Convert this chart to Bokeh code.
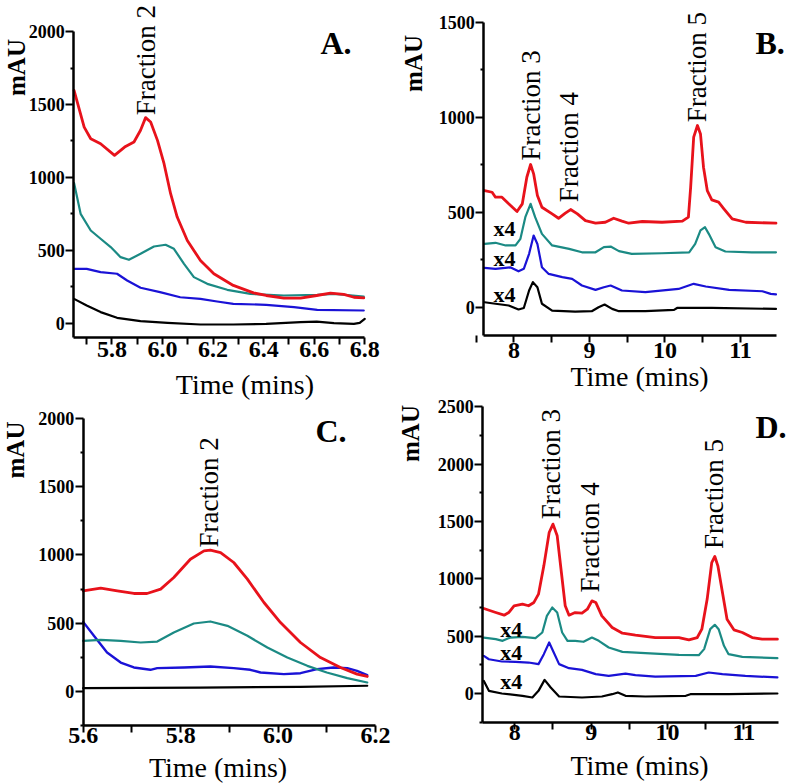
import math
from bokeh.plotting import figure
from bokeh.layouts import column, row
from bokeh.models import Label, FixedTicker, PrintfTickFormatter, Range1d
from bokeh.embed import file_html
from bokeh.resources import INLINE

# ---------------- Panel A data ----------------
a_red_t = [5.65, 5.69, 5.716, 5.755, 5.81, 5.85, 5.887, 5.913, 5.933, 5.953, 5.98, 6.006, 6.032, 6.058, 6.098, 6.15, 6.203, 6.28, 6.36, 6.41, 6.48, 6.546, 6.61, 6.664, 6.717, 6.757, 6.796]
a_red_v = [1597, 1345, 1265, 1231, 1151, 1208, 1243, 1323, 1410, 1380, 1254, 1094, 888, 728, 567, 430, 339, 259, 208, 190, 172, 172, 190, 206, 197, 178, 174]
a_teal_t = [5.65, 5.676, 5.716, 5.755, 5.795, 5.834, 5.867, 5.913, 5.966, 6.012, 6.045, 6.085, 6.124, 6.177, 6.256, 6.348, 6.48, 6.612, 6.678, 6.796]
a_teal_v = [961, 750, 636, 579, 522, 453, 435, 476, 526, 538, 510, 407, 316, 270, 229, 201, 190, 194, 201, 183]
a_blue_t = [5.65, 5.70, 5.755, 5.82, 5.86, 5.913, 5.99, 6.07, 6.15, 6.216, 6.28, 6.41, 6.52, 6.612, 6.796]
a_blue_v = [373, 373, 350, 339, 293, 243, 213, 178, 167, 149, 133, 126, 110, 92, 87]
a_black_t = [5.65, 5.70, 5.755, 5.82, 5.913, 6.02, 6.15, 6.28, 6.41, 6.546, 6.61, 6.678, 6.757, 6.78, 6.80]
a_black_v = [167, 121, 76, 37, 14, 2, -9, -9, -5, 7, 11, 0, -5, 2, 30]

# ---------------- Panel B data ----------------
b_red_t = [7.61, 7.71, 7.755, 7.84, 7.93, 8.04, 8.11, 8.17, 8.22, 8.26, 8.31, 8.37, 8.505, 8.59, 8.68, 8.75, 8.84, 8.946, 9.08, 9.21, 9.32, 9.43, 9.52, 9.70, 9.96, 10.23, 10.31, 10.34, 10.38, 10.43, 10.47, 10.51, 10.56, 10.62, 10.71, 10.78, 10.89, 11.07, 11.47]
b_red_v = [614, 605, 579, 579, 544, 504, 544, 684, 751, 702, 588, 526, 491, 468, 495, 514, 491, 456, 442, 447, 468, 453, 442, 451, 447, 453, 474, 632, 895, 956, 912, 737, 614, 565, 553, 518, 465, 447, 442]
b_teal_t = [7.61, 7.755, 7.89, 8.02, 8.085, 8.15, 8.22, 8.28, 8.37, 8.505, 8.73, 8.90, 9.08, 9.19, 9.28, 9.39, 9.56, 9.96, 10.32, 10.40, 10.47, 10.53, 10.58, 10.67, 10.80, 11.15, 11.47]
b_teal_v = [333, 339, 325, 325, 360, 474, 544, 474, 386, 325, 307, 289, 289, 316, 319, 295, 281, 284, 289, 333, 404, 421, 386, 316, 293, 289, 289]
b_blue_t = [7.61, 7.755, 7.95, 8.06, 8.13, 8.20, 8.26, 8.31, 8.37, 8.46, 8.64, 8.77, 8.90, 9.08, 9.19, 9.28, 9.43, 9.74, 10.18, 10.38, 10.54, 10.85, 11.29, 11.40, 11.47]
b_blue_v = [207, 202, 210, 189, 202, 281, 377, 333, 210, 175, 158, 149, 114, 91, 105, 114, 88, 79, 96, 123, 109, 91, 84, 70, 67]
b_black_t = [7.61, 7.755, 7.93, 8.06, 8.13, 8.20, 8.25, 8.31, 8.37, 8.505, 8.81, 9.03, 9.12, 9.20, 9.30, 9.39, 9.74, 10.12, 10.16, 10.62, 11.47]
b_black_v = [26, 18, 9, -12, -4, 88, 132, 105, 18, -18, -23, -21, 0, 14, -9, -21, -21, -14, -4, -4, -9]

# ---------------- Panel C data ----------------
c_red_t = [5.60, 5.636, 5.67, 5.704, 5.731, 5.759, 5.786, 5.82, 5.848, 5.861, 5.882, 5.909, 5.937, 5.971, 6.005, 6.046, 6.087, 6.128, 6.162, 6.183]
c_red_v = [737, 757, 737, 718, 718, 750, 835, 969, 1030, 1035, 1018, 945, 823, 652, 505, 359, 249, 176, 127, 110]
c_teal_t = [5.60, 5.636, 5.677, 5.718, 5.752, 5.786, 5.827, 5.861, 5.896, 5.937, 5.978, 6.019, 6.06, 6.10, 6.142, 6.183]
c_teal_v = [371, 378, 371, 359, 366, 432, 498, 513, 481, 408, 322, 249, 188, 139, 98, 66]
c_blue_t = [5.60, 5.622, 5.649, 5.677, 5.704, 5.738, 5.752, 5.807, 5.861, 5.909, 5.943, 5.964, 6.012, 6.046, 6.08, 6.114, 6.142, 6.162, 6.183]
c_blue_v = [510, 408, 286, 212, 176, 159, 171, 176, 183, 171, 159, 139, 127, 134, 164, 176, 171, 151, 120]
c_black_t = [5.60, 5.84, 6.046, 6.183]
c_black_v = [24, 29, 34, 42]

# ---------------- Panel D data ----------------
d_red_t = [7.594, 7.75, 7.86, 7.92, 7.99, 8.10, 8.18, 8.25, 8.31, 8.38, 8.45, 8.50, 8.555, 8.61, 8.66, 8.71, 8.79, 8.88, 8.95, 9.01, 9.06, 9.14, 9.275, 9.41, 9.58, 9.84, 10.15, 10.28, 10.39, 10.45, 10.52, 10.58, 10.62, 10.66, 10.72, 10.78, 10.87, 10.98, 11.11, 11.24, 11.44]
d_red_v = [741, 706, 683, 706, 765, 779, 765, 794, 866, 1113, 1404, 1477, 1375, 1055, 765, 683, 706, 701, 735, 808, 794, 677, 576, 526, 509, 488, 488, 468, 488, 561, 823, 1142, 1195, 1113, 881, 648, 555, 532, 488, 474, 474]
d_teal_t = [7.594, 7.75, 7.84, 7.94, 8.10, 8.27, 8.36, 8.42, 8.49, 8.555, 8.62, 8.69, 8.79, 8.90, 9.01, 9.10, 9.23, 9.41, 9.71, 10.15, 10.41, 10.48, 10.56, 10.62, 10.67, 10.74, 10.80, 10.98, 11.44]
d_teal_v = [488, 474, 459, 488, 494, 483, 532, 677, 750, 706, 532, 459, 459, 451, 488, 459, 401, 363, 352, 337, 334, 387, 561, 599, 561, 416, 343, 320, 308]
d_blue_t = [7.594, 7.66, 7.83, 8.01, 8.18, 8.31, 8.38, 8.45, 8.51, 8.58, 8.71, 8.88, 9.06, 9.23, 9.45, 9.58, 9.84, 10.37, 10.54, 10.72, 11.02, 11.44]
d_blue_v = [328, 299, 279, 276, 270, 256, 343, 445, 358, 256, 221, 206, 169, 154, 174, 160, 148, 154, 183, 169, 154, 140]
d_black_t = [7.594, 7.66, 7.83, 8.10, 8.23, 8.31, 8.39, 8.47, 8.58, 8.88, 9.14, 9.275, 9.35, 9.45, 9.71, 10.24, 10.30, 10.80, 11.44]
d_black_v = [110, 23, 0, -20, -35, 23, 119, 52, -26, -35, -26, -6, 9, -20, -26, -20, -6, -6, 0]

# ---------------- Labels ----------------
frac_a = ["Fraction 2"]
frac_a_t = [5.936]
frac_a_v = [1426]
frac_b = ["Fraction 3", "Fraction 4", "Fraction 5"]
frac_b_t = [8.22, 8.73, 10.42]
frac_b_v = [772, 553, 974]
frac_c = ["Fraction 2"]
frac_c_t = [5.858]
frac_c_v = [1055]
frac_d = ["Fraction 3", "Fraction 4", "Fraction 5"]
frac_d_t = [8.48, 8.99, 10.61]
frac_d_v = [1520, 881, 1259]
x4_b_v = [414, 256, 67]
x4_d_v = [562, 357, 105]

RED = "#e8121b"
TEAL = "#1b8a84"
BLUE = "#1a12d6"
BLACK = "#000000"
FONT = "Liberation Serif"


def make_panel(width, height, xr, yr, xb, yb, xmaj, xmin, ymaj, ymin, xfmt, xstand):
    p = figure(width=width, height=height, output_backend="svg", toolbar_location=None,
               x_range=Range1d(*xr), y_range=Range1d(*yr), min_border=0)
    p.xgrid.visible = False
    p.ygrid.visible = False
    p.outline_line_color = None
    p.background_fill_color = "white"
    p.border_fill_color = "white"
    for ax, maj, mn, bnd in ((p.xaxis[0], xmaj, xmin, xb), (p.yaxis[0], ymaj, ymin, yb)):
        ax.ticker = FixedTicker(ticks=maj, minor_ticks=mn)
        ax.bounds = bnd
        ax.axis_line_width = 2.5
        ax.axis_line_color = "black"
        ax.major_tick_line_width = 2
        ax.minor_tick_line_width = 2
        ax.major_tick_in = 0
        ax.minor_tick_in = 0
        ax.major_label_text_font = FONT
        ax.major_label_text_font_style = "bold"
        ax.major_label_text_color = "black"
    p.xaxis[0].fixed_location = yb[0]
    p.yaxis[0].fixed_location = xb[0]
    p.xaxis[0].major_tick_out = 7
    p.xaxis[0].minor_tick_out = 7
    p.yaxis[0].major_tick_out = 8
    p.yaxis[0].minor_tick_out = 3
    p.xaxis[0].formatter = PrintfTickFormatter(format=xfmt)
    p.yaxis[0].formatter = PrintfTickFormatter(format="%d")
    p.xaxis[0].major_label_text_font_size = "24px"
    p.yaxis[0].major_label_text_font_size = "18px"
    p.xaxis[0].major_label_standoff = xstand
    p.yaxis[0].major_label_standoff = 1
    return p


def add_lines(p, series):
    for t, v, c, w in series:
        p.line(t, v, line_color=c, line_width=w, line_join="round", line_cap="round")


def add_text(p, x, y, text, size, bold=False, angle=0.0, align="left", baseline="middle"):
    p.add_layout(Label(x=x, y=y, text=text, text_font=FONT, text_font_size=size,
                       text_font_style="bold" if bold else "normal", text_color="black",
                       angle=angle, text_align=align, text_baseline=baseline))


def frange(a, b, s):
    n = int(round((b - a) / s))
    return [round(a + i * s, 4) for i in range(n + 1)]


def decorate(p, title_xy, mau_xy, letter, letter_xy, fracs, frac_t, frac_v):
    add_text(p, title_xy[0], title_xy[1], "Time (mins)", "28px", align="center")
    add_text(p, mau_xy[0], mau_xy[1], "mAU", "25px", bold=True, angle=math.pi / 2, align="center")
    add_text(p, letter_xy[0], letter_xy[1], letter, "32px", bold=True)
    for s, t, v in zip(fracs, frac_t, frac_v):
        add_text(p, t, v, s, "27px", angle=math.pi / 2, align="left")


# Panel A  (canvas 0..395 x 0..405)
pa = make_panel(395, 405, (5.3590, 6.9216), (-564.5, 2213.3), (5.649, 6.8), (-100, 2000),
                frange(5.8, 6.8, 0.2), frange(5.7, 6.7, 0.2), frange(0, 2000, 500), frange(250, 1750, 500), "%.1f", -3)
add_lines(pa, [(a_black_t, a_black_v, BLACK, 2.2), (a_blue_t, a_blue_v, BLUE, 2.2),
               (a_teal_t, a_teal_v, TEAL, 2.2), (a_red_t, a_red_v, RED, 2.8)])
decorate(pa, (6.3258, -420.4), (5.4204, 1753.8), "A.", (6.6249, 1921.8), frac_a, frac_a_t, frac_a_v)

# Panel C  (canvas 0..395 x 405..784)
pc = make_panel(395, 379, (5.4303, 6.2410), (-681.3, 2095.2), (5.6, 6.2), (-250, 2000),
                frange(5.6, 6.2, 0.2), frange(5.7, 6.1, 0.2), frange(0, 2000, 500), frange(-250, 1750, 500), "%.1f", -5)
add_lines(pc, [(c_black_t, c_black_v, BLACK, 2.2), (c_blue_t, c_blue_v, BLUE, 2.4),
               (c_teal_t, c_teal_v, TEAL, 2.2), (c_red_t, c_red_v, RED, 2.8)])
decorate(pc, (5.8767, -556.8), (5.4621, 1769.2), "C.", (6.0768, 1904.8), frac_c, frac_c_t, frac_c_v)

# Panel B  (canvas 395..790 x 0..397)
pb = make_panel(395, 397, (6.4305, 11.6623), (-475.3, 1614.2), (7.6, 11.48), (-150, 1500),
                [8, 9, 10, 11], [7.5, 8.5, 9.5, 10.5], frange(0, 1500, 500), frange(250, 1250, 500), "%d", 0)
add_lines(pb, [(b_black_t, b_black_v, BLACK, 2.2), (b_blue_t, b_blue_v, BLUE, 2.2),
               (b_teal_t, b_teal_v, TEAL, 2.2), (b_red_t, b_red_v, RED, 2.8)])
decorate(pb, (9.6623, -367.4), (6.6623, 1282.6), "B.", (11.1987, 1390.5), frac_b, frac_b_t, frac_b_v)
for v in x4_b_v:
    add_text(pb, 7.73, v, "x4", "22px", bold=True)

# Panel D  (canvas 395..790 x 397..784)
pd_ = make_panel(395, 387, (6.4367, 11.6115), (-793.5, 2581.1), (7.58, 11.45), (-250, 2500),
                 [8, 9, 10, 11], [8.5, 9.5, 10.5], frange(0, 2500, 500), frange(-250, 2250, 500), "%d", -4)
add_lines(pd_, [(d_black_t, d_black_v, BLACK, 2.2), (d_blue_t, d_blue_v, BLUE, 2.2),
                (d_teal_t, d_teal_v, TEAL, 2.2), (d_red_t, d_red_v, RED, 2.8)])
decorate(pd_, (9.6333, -623.5), (6.6397, 2267.2), "D.", (11.153, 2328.2), frac_d, frac_d_t, frac_d_v)
for v in x4_d_v:
    add_text(pd_, 7.81, v, "x4", "22px", bold=True)

layout = row(column(pa, pc), column(pb, pd_))
open("out.html", "w").write(file_html(layout, INLINE))
